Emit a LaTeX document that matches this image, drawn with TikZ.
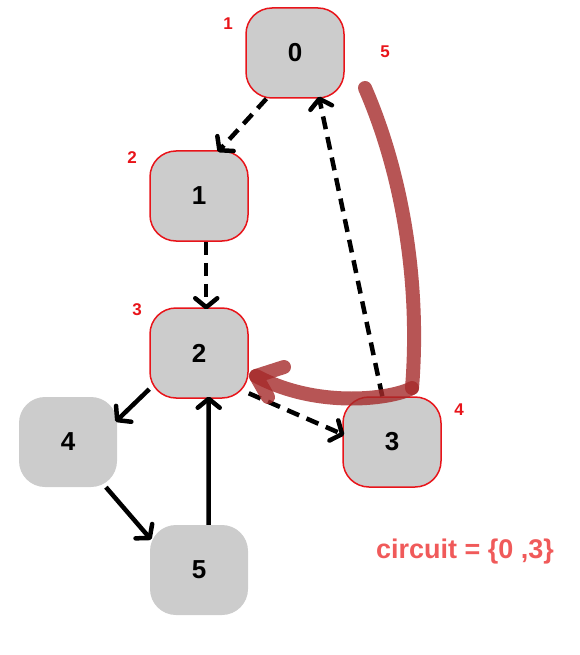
\documentclass[tikz,border=0pt]{standalone}
\usepackage{fontspec}
\setmainfont{Liberation Sans}
\usetikzlibrary{decorations.markings}
\definecolor{nodegray}{HTML}{CCCCCC}
\definecolor{nodered}{HTML}{E8141A}
\definecolor{pathred}{HTML}{A52A2A}
\definecolor{circred}{HTML}{F05A5A}
\begin{document}
\begin{tikzpicture}[x=1pt,y=-1pt,
  vx/.style={rectangle, rounded corners=26pt, fill=nodegray, minimum width=98pt,
     minimum height=90pt, inner sep=0pt, font=\bfseries\fontsize{26}{26}\selectfont},
  vxr/.style={vx, draw=nodered, line width=1.5pt},
  lbl/.style={text=nodered, font=\bfseries\fontsize{17}{17}\selectfont},
  barbend/.style={postaction={decorate, decoration={markings,
     mark=at position 1 with {\draw[solid, line width=4.5pt, line cap=round, line join=round]
        (-9pt,11pt) -- (0pt,0pt) -- (-9pt,-11pt);}}}},
  solidedge/.style={line width=4.5pt, barbend},
  dashedge/.style={line width=4.5pt, barbend, dash pattern=on 13pt off 8pt},
  circuitpath/.style={line width=14pt, draw=pathred, draw opacity=0.8, line cap=round,
     line join=round}
]
\useasboundingbox (0,0) rectangle (580,655);
\node[vxr] (n0) at (295,53) {0};
\node[vxr] (n1) at (199,196) {1};
\node[vxr] (n2) at (199,353) {2};
\node[vxr] (n3) at (392,442) {3};
\node[vx]  (n4) at (68,442) {4};
\node[vx]  (n5) at (199,570) {5};

\node[lbl] (l0) at (228,24) {1};
\node[lbl] (l5) at (385,52) {5};
\node[lbl] (l1) at (132,158) {2};
\node[lbl] (l2) at (137,310) {3};
\node[lbl] (l3) at (459,410) {4};

\draw[dashedge] (n0.238) -- (n1.66);
\draw[dashedge] (n1.279) -- (n2.81);
\draw[dashedge] (n3.102) -- (n0.298);
\draw[dashedge] (n2.321) -- (n3.171);
\draw[solidedge] (n2.216) -- (n4.24);
\draw[solidedge] (n4.310) -- (n5.147);
\draw[solidedge] (n5.78) -- (n2.282);

\coordinate (cs) at (365,88);
\coordinate (cm) at (412,388);
\coordinate (ce) at (256,376);
\coordinate (ha) at (284,367);
\coordinate (hb) at (268,397);
\draw[circuitpath] (cs) .. controls (405,180) and (420,290) .. (cm);
\draw[circuitpath] (cm) .. controls (395,398) and (320,410) .. (ce);
\draw[circuitpath] (ha) -- (ce) -- (hb);

\node[text=circred, font=\bfseries\fontsize{27}{27}\selectfont] (circ) at (465,552) {circuit = \{0 ,3\}};
\end{tikzpicture}
\end{document}
